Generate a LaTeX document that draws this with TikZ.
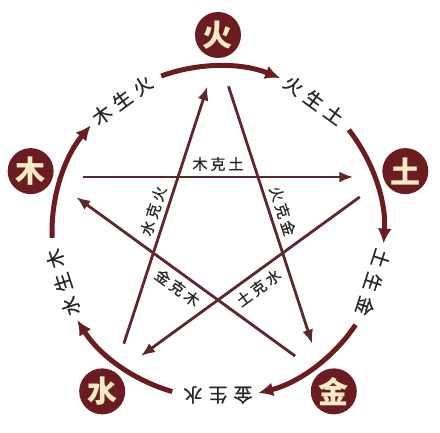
\documentclass[tikz,border=0pt]{standalone}
\usepackage{fontspec}
\setmainfont{Noto Sans CJK SC}
\newfontfamily\lblfont[FakeBold=0.6]{Noto Sans CJK SC}
\usepackage{tikz}
\usetikzlibrary{arrows.meta}
\definecolor{wxred}{RGB}{106,28,32}
\definecolor{wxcream}{RGB}{248,234,196}
\definecolor{wxline}{RGB}{92,40,46}
\tikzstyle{element} = [circle, minimum size=46pt, inner sep=0pt, fill=wxred, text=wxcream, font=\fontsize{30}{30}\selectfont\bfseries]
\tikzstyle{sheng} = [line width=5pt, color=wxred, -{Latex[length=15pt,width=14pt]}]
\tikzstyle{ke} = [line width=2.8pt, color=wxline, -{Latex[length=14pt,width=11pt]}, shorten <=34pt, shorten >=34pt]
\tikzstyle{shenglabel} = [font=\lblfont\fontsize{19}{19}\selectfont, text=black!85, inner sep=0pt]
\tikzstyle{kelabel} = [font=\lblfont\fontsize{15}{15}\selectfont, text=black!85, inner sep=0pt]

\begin{document}
\begin{tikzpicture}[x=1pt, y=1pt]
    \useasboundingbox (-218,-201) rectangle (222,232);

    % Five elements
    \node[element] (huo) at (90:197) {火};
    \node[element] (tu) at (18:197) {土};
    \node[element] (jin) at (-54:197) {金};
    \node[element] (shui) at (-126:197) {水};
    \node[element] (mu) at (162:197) {木};

    % Generating cycle
    \foreach \a/\n in {90/huo, 18/tu, -54/jin, -126/shui, 162/mu} {
        \coordinate (arc-\n) at (\a+20:166);
        \draw[sheng] (arc-\n) arc[start angle=\a+20, end angle=\a-22, radius=166pt];
    }
    \node[shenglabel, rotate=36] (muhuo) at (126:163) {木\hspace{6pt}生\hspace{6pt}火};
    \node[shenglabel, rotate=-36] (huotu) at (54:163) {火\hspace{6pt}生\hspace{6pt}土};
    \node[shenglabel, rotate=-108] (tujin) at (-18:163) {土\hspace{6pt}生\hspace{6pt}金};
    \node[shenglabel, rotate=180] (jinshui) at (-90:163) {金\hspace{6pt}生\hspace{6pt}水};
    \node[shenglabel, rotate=108] (shuimu) at (198:163) {水\hspace{6pt}生\hspace{6pt}木};

    % Overcoming cycle
    \coordinate (khuo) at (90:178);
    \coordinate (ktu) at (18:178);
    \coordinate (kjin) at (-54:178);
    \coordinate (kshui) at (-126:178);
    \coordinate (kmu) at (162:178);
    \draw[ke] (kmu) -- (ktu);
    \draw[ke] (ktu) -- (kshui);
    \draw[ke] (kshui) -- (khuo);
    \draw[ke] (khuo) -- (kjin);
    \draw[ke] (kjin) -- (kmu);
    \node[kelabel] (mutu) at (90:68) {木\hspace{3pt}克\hspace{3pt}土};
    \node[kelabel, rotate=-72] (huojin) at (18:68) {火\hspace{3pt}克\hspace{3pt}金};
    \node[kelabel, rotate=72] (shuihuo) at (162:68) {水\hspace{3pt}克\hspace{3pt}火};
    \node[kelabel, rotate=-36] (jinmu) at (234:69) {金\hspace{3pt}克\hspace{3pt}木};
    \node[kelabel, rotate=36] (tushui) at (306:69) {土\hspace{3pt}克\hspace{3pt}水};
\end{tikzpicture}
\end{document}
